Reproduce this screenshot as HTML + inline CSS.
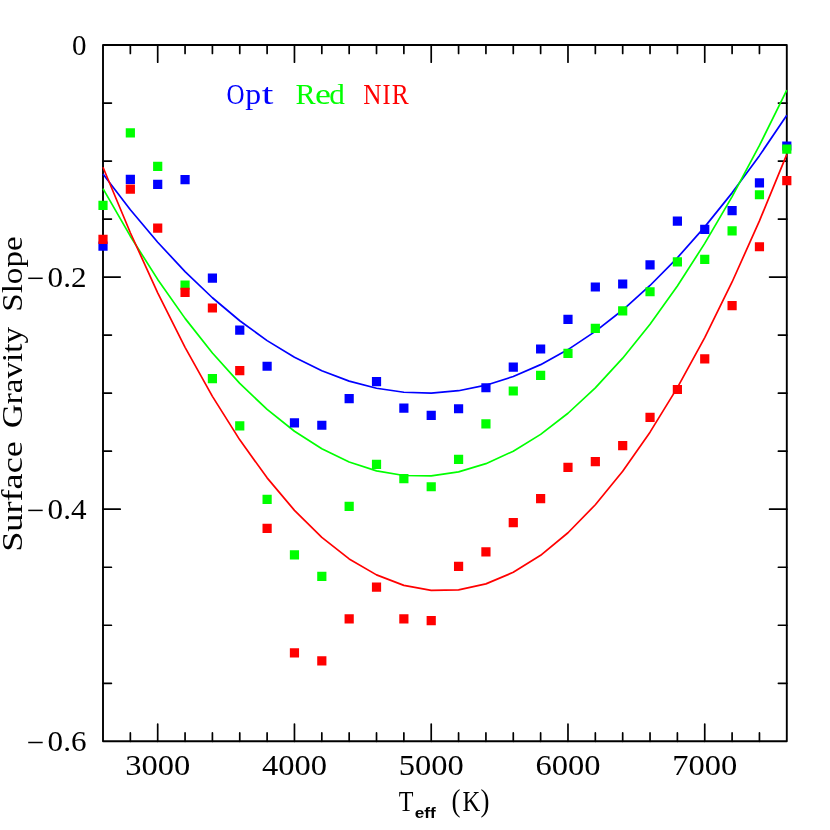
<!DOCTYPE html>
<html><head><meta charset="utf-8"><title>chart</title>
<style>html,body{margin:0;padding:0;background:#fff}svg{display:block}text{font-family:"Liberation Serif",serif;fill:#000}</style></head><body>
<svg width="830" height="830" viewBox="0 0 830 830">
<rect width="830" height="830" fill="#fff"/>
<g stroke="#000" fill="none" stroke-linejoin="round" stroke-linecap="round">
<rect x="103.0" y="45.0" width="683.80" height="696.30" stroke-width="1.9"/>
<path d="M130.35 45.0v8.4M130.35 741.30v-8.4M157.70 45.0v17.2M157.70 741.30v-17.2M185.06 45.0v8.4M185.06 741.30v-8.4M212.41 45.0v8.4M212.41 741.30v-8.4M239.76 45.0v8.4M239.76 741.30v-8.4M267.11 45.0v8.4M267.11 741.30v-8.4M294.46 45.0v17.2M294.46 741.30v-17.2M321.82 45.0v8.4M321.82 741.30v-8.4M349.17 45.0v8.4M349.17 741.30v-8.4M376.52 45.0v8.4M376.52 741.30v-8.4M403.87 45.0v8.4M403.87 741.30v-8.4M431.22 45.0v17.2M431.22 741.30v-17.2M458.58 45.0v8.4M458.58 741.30v-8.4M485.93 45.0v8.4M485.93 741.30v-8.4M513.28 45.0v8.4M513.28 741.30v-8.4M540.63 45.0v8.4M540.63 741.30v-8.4M567.98 45.0v17.2M567.98 741.30v-17.2M595.34 45.0v8.4M595.34 741.30v-8.4M622.69 45.0v8.4M622.69 741.30v-8.4M650.04 45.0v8.4M650.04 741.30v-8.4M677.39 45.0v8.4M677.39 741.30v-8.4M704.74 45.0v17.2M704.74 741.30v-17.2M732.10 45.0v8.4M732.10 741.30v-8.4M759.45 45.0v8.4M759.45 741.30v-8.4M103.0 103.03h8.4M786.80 103.03h-8.4M103.0 161.05h8.4M786.80 161.05h-8.4M103.0 219.08h8.4M786.80 219.08h-8.4M103.0 277.10h17.2M786.80 277.10h-17.2M103.0 335.12h8.4M786.80 335.12h-8.4M103.0 393.15h8.4M786.80 393.15h-8.4M103.0 451.18h8.4M786.80 451.18h-8.4M103.0 509.20h17.2M786.80 509.20h-17.2M103.0 567.23h8.4M786.80 567.23h-8.4M103.0 625.25h8.4M786.80 625.25h-8.4M103.0 683.28h8.4M786.80 683.28h-8.4" stroke-width="1.7"/>
</g>
<polyline points="103.00,174.04 130.35,209.72 157.70,242.24 185.06,271.59 212.41,297.76 239.76,320.77 267.11,340.61 294.46,357.27 321.82,370.77 349.17,381.10 376.52,388.26 403.87,392.25 431.22,393.06 458.58,390.71 485.93,385.19 513.28,376.50 540.63,364.64 567.98,349.61 595.34,331.40 622.69,310.03 650.04,285.49 677.39,257.78 704.74,226.90 732.10,192.85 759.45,155.63 786.80,115.24" fill="none" stroke="#0000ff" stroke-width="1.7" stroke-linejoin="round"/>
<polyline points="103.00,188.67 130.35,236.19 157.70,279.42 185.06,318.37 212.41,353.02 239.76,383.39 267.11,409.46 294.46,431.25 321.82,448.75 349.17,461.96 376.52,470.88 403.87,475.52 431.22,475.86 458.58,471.92 485.93,463.68 513.28,451.16 540.63,434.35 567.98,413.25 595.34,387.86 622.69,358.18 650.04,324.21 677.39,285.96 704.74,243.41 732.10,196.58 759.45,145.46 786.80,90.04" fill="none" stroke="#00ff00" stroke-width="1.7" stroke-linejoin="round"/>
<polyline points="103.00,167.22 130.35,232.76 157.70,292.79 185.06,347.32 212.41,396.34 239.76,439.86 267.11,477.87 294.46,510.39 321.82,537.39 349.17,558.90 376.52,574.89 403.87,585.39 431.22,590.38 458.58,589.86 485.93,583.85 513.28,572.32 540.63,555.30 567.98,532.77 595.34,504.73 622.69,471.19 650.04,432.15 677.39,387.60 704.74,337.55 732.10,281.99 759.45,220.93 786.80,154.37" fill="none" stroke="#ff0000" stroke-width="1.7" stroke-linejoin="round"/>
<path d="M98.40 241.56h9.2v9.2h-9.2zM125.75 174.83h9.2v9.2h-9.2zM153.10 179.82h9.2v9.2h-9.2zM180.46 175.07h9.2v9.2h-9.2zM207.81 273.48h9.2v9.2h-9.2zM235.16 325.47h9.2v9.2h-9.2zM262.51 361.67h9.2v9.2h-9.2zM289.86 418.19h9.2v9.2h-9.2zM317.22 420.63h9.2v9.2h-9.2zM344.57 393.94h9.2v9.2h-9.2zM371.92 376.99h9.2v9.2h-9.2zM399.27 403.45h9.2v9.2h-9.2zM426.62 410.76h9.2v9.2h-9.2zM453.98 404.15h9.2v9.2h-9.2zM481.33 383.14h9.2v9.2h-9.2zM508.68 362.60h9.2v9.2h-9.2zM536.03 344.38h9.2v9.2h-9.2zM563.38 314.79h9.2v9.2h-9.2zM590.74 282.41h9.2v9.2h-9.2zM618.09 279.40h9.2v9.2h-9.2zM645.44 260.25h9.2v9.2h-9.2zM672.79 216.61h9.2v9.2h-9.2zM700.14 224.85h9.2v9.2h-9.2zM727.50 205.94h9.2v9.2h-9.2zM754.85 178.20h9.2v9.2h-9.2zM782.20 141.41h9.2v9.2h-9.2z" fill="#0000ff"/>
<path d="M98.40 200.83h9.2v9.2h-9.2zM125.75 128.18h9.2v9.2h-9.2zM153.10 161.72h9.2v9.2h-9.2zM180.46 280.56h9.2v9.2h-9.2zM207.81 374.09h9.2v9.2h-9.2zM235.16 421.21h9.2v9.2h-9.2zM262.51 494.78h9.2v9.2h-9.2zM289.86 550.37h9.2v9.2h-9.2zM317.22 571.73h9.2v9.2h-9.2zM344.57 501.86h9.2v9.2h-9.2zM371.92 459.74h9.2v9.2h-9.2zM399.27 474.01h9.2v9.2h-9.2zM426.62 482.13h9.2v9.2h-9.2zM453.98 454.86h9.2v9.2h-9.2zM481.33 419.24h9.2v9.2h-9.2zM508.68 386.39h9.2v9.2h-9.2zM536.03 370.73h9.2v9.2h-9.2zM563.38 348.68h9.2v9.2h-9.2zM590.74 323.73h9.2v9.2h-9.2zM618.09 306.32h9.2v9.2h-9.2zM645.44 287.17h9.2v9.2h-9.2zM672.79 257.35h9.2v9.2h-9.2zM700.14 254.79h9.2v9.2h-9.2zM727.50 226.36h9.2v9.2h-9.2zM754.85 190.15h9.2v9.2h-9.2zM782.20 144.43h9.2v9.2h-9.2z" fill="#00ff00"/>
<path d="M98.40 234.72h9.2v9.2h-9.2zM125.75 184.58h9.2v9.2h-9.2zM153.10 223.46h9.2v9.2h-9.2zM180.46 287.87h9.2v9.2h-9.2zM207.81 303.42h9.2v9.2h-9.2zM235.16 366.08h9.2v9.2h-9.2zM262.51 523.68h9.2v9.2h-9.2zM289.86 648.32h9.2v9.2h-9.2zM317.22 656.21h9.2v9.2h-9.2zM344.57 614.32h9.2v9.2h-9.2zM371.92 582.52h9.2v9.2h-9.2zM399.27 614.32h9.2v9.2h-9.2zM426.62 615.94h9.2v9.2h-9.2zM453.98 561.86h9.2v9.2h-9.2zM481.33 547.35h9.2v9.2h-9.2zM508.68 517.99h9.2v9.2h-9.2zM536.03 494.09h9.2v9.2h-9.2zM563.38 462.75h9.2v9.2h-9.2zM590.74 456.95h9.2v9.2h-9.2zM618.09 440.94h9.2v9.2h-9.2zM645.44 412.74h9.2v9.2h-9.2zM672.79 384.88h9.2v9.2h-9.2zM700.14 354.36h9.2v9.2h-9.2zM727.50 301.10h9.2v9.2h-9.2zM754.85 242.14h9.2v9.2h-9.2zM782.20 176.11h9.2v9.2h-9.2z" fill="#ff0000"/>
<g font-size="28.5" opacity="0.999">
<text x="226.47" y="104" style="fill:#0000ff" textLength="18.05" lengthAdjust="spacingAndGlyphs">O</text>
<text x="245.29" y="104" style="fill:#0000ff" textLength="15.85" lengthAdjust="spacingAndGlyphs">p</text>
<text x="261.89" y="104" style="fill:#0000ff" textLength="11.66" lengthAdjust="spacingAndGlyphs">t</text>
<text x="295.43" y="104" style="fill:#00ff00" textLength="20.11" lengthAdjust="spacingAndGlyphs">R</text>
<text x="314.90" y="104" style="fill:#00ff00" textLength="15.95" lengthAdjust="spacingAndGlyphs">e</text>
<text x="329.27" y="104" style="fill:#00ff00" textLength="15.61" lengthAdjust="spacingAndGlyphs">d</text>
<text x="363.17" y="104" style="fill:#ff0000" textLength="18.20" lengthAdjust="spacingAndGlyphs">N</text>
<text x="382.43" y="104" style="fill:#ff0000" textLength="8.02" lengthAdjust="spacingAndGlyphs">I</text>
<text x="391.87" y="104" style="fill:#ff0000" textLength="16.97" lengthAdjust="spacingAndGlyphs">R</text>
<text x="125.20" y="775.3" textLength="65" lengthAdjust="spacingAndGlyphs">3000</text>
<text x="261.96" y="775.3" textLength="65" lengthAdjust="spacingAndGlyphs">4000</text>
<text x="398.72" y="775.3" textLength="65" lengthAdjust="spacingAndGlyphs">5000</text>
<text x="535.48" y="775.3" textLength="65" lengthAdjust="spacingAndGlyphs">6000</text>
<text x="672.24" y="775.3" textLength="65" lengthAdjust="spacingAndGlyphs">7000</text>
<text x="72.1" y="54.8" textLength="14.5" lengthAdjust="spacingAndGlyphs">0</text>
<text x="47.6" y="286.60" textLength="38.9" lengthAdjust="spacingAndGlyphs">0.2</text>
<path d="M28.2 278.30h14.5" stroke="#000" stroke-width="1.5"/>
<text x="47.6" y="518.70" textLength="38.9" lengthAdjust="spacingAndGlyphs">0.4</text>
<path d="M28.2 510.40h14.5" stroke="#000" stroke-width="1.5"/>
<text x="47.6" y="750.80" textLength="38.9" lengthAdjust="spacingAndGlyphs">0.6</text>
<path d="M28.2 742.50h14.5" stroke="#000" stroke-width="1.5"/>
<text transform="translate(22.3 551.8) rotate(-90)" textLength="110.6" lengthAdjust="spacingAndGlyphs">Surface</text>
<text transform="translate(22.3 428.0) rotate(-90)" textLength="100.9" lengthAdjust="spacingAndGlyphs">Gravity</text>
<text transform="translate(22.3 311.8) rotate(-90)" textLength="75.5" lengthAdjust="spacingAndGlyphs">Slope</text>
<text x="398.8" y="810.8" textLength="14.7" lengthAdjust="spacingAndGlyphs">T</text>
<text x="414.7" y="818.3" font-size="14" font-weight="bold" style="font-family:'Liberation Sans',sans-serif" textLength="21" lengthAdjust="spacingAndGlyphs">eff</text>
<text x="451.5" y="811.2" font-size="30.5" textLength="9" lengthAdjust="spacingAndGlyphs">(</text>
<text x="462.4" y="810.8" textLength="17.8" lengthAdjust="spacingAndGlyphs">K</text>
<text x="480.6" y="811.2" font-size="30.5" textLength="9" lengthAdjust="spacingAndGlyphs">)</text>
</g>
</svg></body></html>
